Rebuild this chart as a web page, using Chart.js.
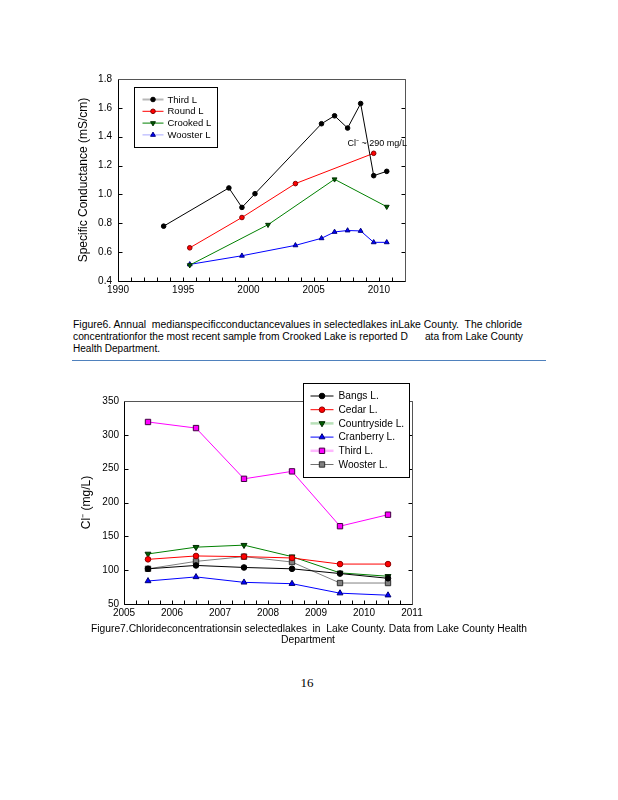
<!DOCTYPE html>
<html><head><meta charset="utf-8">
<script src="https://cdn.jsdelivr.net/npm/chart.js@4.4.0/dist/chart.umd.min.js"></script>
<style>
html,body{margin:0;padding:0;background:#fff;}
body{width:618px;height:800px;position:relative;overflow:hidden;font-family:"Liberation Sans",Arial,sans-serif;color:#000;}
canvas{position:absolute;}
.cap{position:absolute;white-space:pre;font-size:10px;line-height:12px;color:#000;transform-origin:0 0;}
#rule{position:absolute;left:72px;top:359.5px;width:474px;height:0;border-top:1.4px solid #4f81bd;}
#pg{position:absolute;left:287px;width:40px;top:675px;text-align:center;font-family:"Liberation Serif","Times New Roman",serif;font-size:13px;line-height:16px;color:#000;}
</style></head><body>
<canvas id="c1" width="360" height="250" style="left:60px;top:60px;width:360px;height:250px"></canvas>
<div class="cap" data-w="449" style="left:73px;top:319px">Figure6. Annual  medianspecificconductancevalues in selectedlakes inLake County.  The chloride</div>
<div class="cap" data-w="450" style="left:73px;top:331px">concentrationfor the most recent sample from Crooked Lake is reported D      ata from Lake County</div>
<div class="cap" data-w="87" style="left:73px;top:343px">Health Department.</div>
<div id="rule"></div>
<canvas id="c2" width="370" height="250" style="left:60px;top:375px;width:370px;height:250px"></canvas>
<div class="cap" data-w="436" style="left:91px;top:623px">Figure7.Chlorideconcentrationsin selectedlakes  in  Lake County. Data from Lake County Health</div>
<div class="cap" data-w="54" style="left:281px;top:634px">Department</div>
<div id="pg">16</div>
<script>
// ---------- Figure 6 data: specific conductance (mS/cm) ----------
const thirdYearsSC = [1993.5, 1998.5, 1999.5, 2000.5, 2005.6, 2006.6, 2007.6, 2008.6, 2009.6, 2010.6];
const thirdSC      = [0.78, 1.045, 0.91, 1.005, 1.49, 1.545, 1.46, 1.63, 1.13, 1.16];
const roundYearsSC = [1995.5, 1999.5, 2003.6, 2009.6];
const roundSC      = [0.63, 0.84, 1.075, 1.285];
const crookedYearsSC = [1995.5, 2001.5, 2006.6, 2010.6];
const crookedSC      = [0.51, 0.79, 1.105, 0.915];
const woosterYearsSC = [1995.5, 1999.5, 2003.6, 2005.6, 2006.6, 2007.6, 2008.6, 2009.6, 2010.6];
const woosterSC      = [0.515, 0.575, 0.647, 0.696, 0.74, 0.75, 0.747, 0.668, 0.668];
const scXTicks = [1990, 1995, 2000, 2005, 2010];
const scYTicks = [0.4, 0.6, 0.8, 1.0, 1.2, 1.4, 1.6, 1.8];

// ---------- Figure 7 data: chloride (mg/L) ----------
const clYears = [2005.5, 2006.5, 2007.5, 2008.5, 2009.5, 2010.5];
const bangsCl       = [102, 107, 104, 102, 95, 88];
const cedarCl       = [116, 121, 120, 118, 109, 109];
const countrysideCl = [124, 134, 137, 120, 96, 91];
const cranberryCl   = [84, 90, 82, 80, 66, 63];
const thirdCl       = [319, 310, 235, 246, 165, 182];
const woosterCl     = [102, 113, 120, 112, 81, 81];
const clXTicks = [2005, 2006, 2007, 2008, 2009, 2010, 2011];
const clYTicks = [50, 100, 150, 200, 250, 300, 350];

const pts = (xs, ys) => xs.map((x, i) => ({x: x, y: ys[i]}));
const FONT = '"Liberation Sans", Arial, sans-serif';

function marker(ctx, style, x, y, r, fill, stroke, rot) {
  ctx.save();
  ctx.fillStyle = fill; ctx.strokeStyle = stroke; ctx.lineWidth = 1;
  ctx.beginPath();
  if (style === 'circle') { ctx.arc(x, y, r, 0, Math.PI * 2); }
  else if (style === 'rect') { const s = r * Math.SQRT1_2; ctx.rect(x - s, y - s, 2 * s, 2 * s); }
  else if (style === 'triangle') {
    ctx.translate(x, y); if (rot) ctx.rotate(rot * Math.PI / 180);
    const w = r * Math.sqrt(3) / 2;
    ctx.moveTo(0, -r); ctx.lineTo(w, r / 2); ctx.lineTo(-w, r / 2);
  }
  ctx.closePath(); ctx.fill(); ctx.stroke();
  ctx.restore();
}

const framePlugin = {
  id: 'frame',
  beforeDatasetsDraw(chart, args, o) {
    const {ctx, chartArea: a, scales: {x, y}} = chart;
    const L = Math.round(a.left) + 0.5, R = Math.round(a.right) + 0.5, T = Math.round(a.top) + 0.5, B = Math.round(a.bottom) + 0.5;
    ctx.save();
    ctx.strokeStyle = '#000'; ctx.lineWidth = 1;
    ctx.beginPath();
    (o.xTicks || []).forEach(v => { const p = Math.round(x.getPixelForValue(v)) + 0.5; ctx.moveTo(p, B); ctx.lineTo(p, B - o.len); });
    (o.yTicks || []).forEach(v => { const p = Math.round(y.getPixelForValue(v)) + 0.5; ctx.moveTo(L, p); ctx.lineTo(L + o.len, p); ctx.moveTo(R, p); ctx.lineTo(R - o.len, p); });
    ctx.stroke();
    ctx.beginPath(); ctx.moveTo(L, T); ctx.lineTo(L, B); ctx.lineTo(R, B); ctx.stroke();
    ctx.strokeStyle = '#555';
    ctx.beginPath(); ctx.moveTo(L, T); ctx.lineTo(R, T); ctx.lineTo(R, B); ctx.stroke();
    ctx.restore();
  },
  afterDraw(chart, args, o) {
    const {ctx, chartArea: a, scales: {x, y}} = chart;
    if (o.note) {
      ctx.save();
      ctx.font = o.note.font; ctx.fillStyle = '#000'; ctx.textBaseline = 'middle'; ctx.textAlign = 'left';
      ctx.fillText(o.note.text, x.getPixelForValue(o.note.x), y.getPixelForValue(o.note.y));
      ctx.restore();
    }
    const lg = o.legend;
    if (lg) {
      const bx = Math.round(a.left + lg.dx) + 0.5, by = Math.round(a.top + lg.dy) + 0.5;
      ctx.save();
      ctx.fillStyle = '#fff'; ctx.fillRect(bx, by, lg.w, lg.h);
      ctx.strokeStyle = '#000'; ctx.lineWidth = 1; ctx.strokeRect(bx, by, lg.w, lg.h);
      ctx.font = lg.font; ctx.textBaseline = 'middle'; ctx.textAlign = 'left';
      lg.items.forEach((it, i) => {
        const cy = by + lg.first + i * lg.row;
        ctx.strokeStyle = it.line; ctx.lineWidth = it.lw;
        ctx.beginPath(); ctx.moveTo(bx + lg.l0, cy); ctx.lineTo(bx + lg.l1, cy); ctx.stroke();
        marker(ctx, it.style, bx + (lg.l0 + lg.l1) / 2, cy, it.r, it.fill, it.stroke, it.rot);
        ctx.fillStyle = '#000';
        ctx.fillText(it.label, bx + lg.tx, cy + 0.5);
      });
      ctx.restore();
    }
  }
};

function yFit(w) { return s => { s.width = w; }; }
function xFit(h) { return s => { s.height = h; }; }
const noGrid = {display: false, drawTicks: false};

// ---------- Chart 1 ----------
const minorYears = []; for (let v = 1990; v <= 2012; v++) minorYears.push(v);
new Chart(document.getElementById('c1'), {
  type: 'line',
  plugins: [framePlugin],
  data: {
    datasets: [
      {label: 'Third L', data: pts(thirdYearsSC, thirdSC), borderColor: '#000', backgroundColor: '#000', pointBackgroundColor: '#000', pointBorderColor: '#000', pointStyle: 'circle', pointRadius: 2.3},
      {label: 'Round L', data: pts(roundYearsSC, roundSC), borderColor: '#ff0000', pointBackgroundColor: '#ff0000', pointBorderColor: '#800000', pointStyle: 'circle', pointRadius: 2.3},
      {label: 'Crooked L', data: pts(crookedYearsSC, crookedSC), borderColor: '#008000', pointBackgroundColor: '#005a00', pointBorderColor: '#003000', pointStyle: 'triangle', pointRotation: 180, pointRadius: 2.8},
      {label: 'Wooster L', data: pts(woosterYearsSC, woosterSC), borderColor: '#0000ff', pointBackgroundColor: '#0000ff', pointBorderColor: '#000080', pointStyle: 'triangle', pointRadius: 2.8}
    ]
  },
  options: {
    responsive: false, animation: false, devicePixelRatio: 1,
    layout: {padding: {top: 19, right: 15, left: 0, bottom: 0}},
    elements: {line: {borderWidth: 1, tension: 0}, point: {borderWidth: 1}},
    plugins: {
      legend: {display: false}, tooltip: {enabled: false},
      frame: {
        xTicks: minorYears, yTicks: scYTicks, len: 4,
        note: {text: 'Cl\u207B ~ 290 mg/L', x: 2007.6, y: 1.35, font: '9px ' + FONT},
        legend: {dx: 16, dy: 8, w: 83, h: 60, first: 12, row: 11.8, l0: 8, l1: 29, tx: 33, font: '9.5px ' + FONT,
          items: [
            {label: 'Third L', line: '#b8b8b8', lw: 2, style: 'circle', r: 2.3, fill: '#000', stroke: '#000'},
            {label: 'Round L', line: '#ff0000', lw: 1, style: 'circle', r: 2.3, fill: '#ff0000', stroke: '#800000'},
            {label: 'Crooked L', line: '#008000', lw: 1, style: 'triangle', r: 2.8, fill: '#005a00', stroke: '#003000', rot: 180},
            {label: 'Wooster L', line: '#a8a8ff', lw: 1, style: 'triangle', r: 2.8, fill: '#0000ff', stroke: '#000080'}
          ]}
      }
    },
    scales: {
      x: {type: 'linear', min: 1990, max: 2012, afterFit: xFit(29),
        afterBuildTicks: s => { s.ticks = scXTicks.map(v => ({value: v})); },
        grid: noGrid, border: {display: false},
        ticks: {padding: 3, color: '#000', font: {family: FONT, size: 10}, maxRotation: 0, autoSkip: false, callback: v => String(v)}},
      y: {type: 'linear', min: 0.4, max: 1.8, afterFit: yFit(58),
        afterBuildTicks: s => { s.ticks = scYTicks.map(v => ({value: v})); },
        grid: noGrid, border: {display: false},
        ticks: {padding: 6, color: '#000', font: {family: FONT, size: 10}, callback: v => v.toFixed(1)},
        title: {display: true, text: 'Specific Conductance (mS/cm)', color: '#000', font: {family: FONT, size: 12}, padding: {top: 16, bottom: 0}}}
    }
  }
});

// ---------- Chart 2 ----------
const quarterTicks = []; for (let v = 2005; v <= 2011.001; v += 0.25) quarterTicks.push(v);
new Chart(document.getElementById('c2'), {
  type: 'line',
  plugins: [framePlugin],
  data: {
    datasets: [
      {label: 'Bangs L.', data: pts(clYears, bangsCl), borderColor: '#000', pointBackgroundColor: '#000', pointBorderColor: '#000', pointStyle: 'circle', pointRadius: 2.8},
      {label: 'Cedar L.', data: pts(clYears, cedarCl), borderColor: '#ff0000', pointBackgroundColor: '#ff0000', pointBorderColor: '#900000', pointStyle: 'circle', pointRadius: 2.8},
      {label: 'Countryside L.', data: pts(clYears, countrysideCl), borderColor: '#008000', pointBackgroundColor: '#006000', pointBorderColor: '#002800', pointStyle: 'triangle', pointRotation: 180, pointRadius: 3.4},
      {label: 'Cranberry L.', data: pts(clYears, cranberryCl), borderColor: '#0000ff', pointBackgroundColor: '#0000ff', pointBorderColor: '#000070', pointStyle: 'triangle', pointRadius: 3.4},
      {label: 'Third L.', data: pts(clYears, thirdCl), borderColor: '#ff00ff', pointBackgroundColor: '#ff00ff', pointBorderColor: '#400040', pointStyle: 'rect', pointRadius: 3.8},
      {label: 'Wooster L.', data: pts(clYears, woosterCl), borderColor: '#808080', pointBackgroundColor: '#808080', pointBorderColor: '#303030', pointStyle: 'rect', pointRadius: 3.8}
    ]
  },
  options: {
    responsive: false, animation: false, devicePixelRatio: 1,
    layout: {padding: {top: 26, right: 18, left: 0, bottom: 0}},
    elements: {line: {borderWidth: 1, tension: 0}, point: {borderWidth: 1}},
    plugins: {
      legend: {display: false}, tooltip: {enabled: false},
      frame: {
        xTicks: quarterTicks, yTicks: clYTicks, len: 4,
        legend: {dx: 179, dy: -18, w: 106, h: 94, first: 12.5, row: 13.7, l0: 7, l1: 30, tx: 35, font: '10.2px ' + FONT,
          items: [
            {label: 'Bangs L.', line: '#000', lw: 1, style: 'circle', r: 2.8, fill: '#000', stroke: '#000'},
            {label: 'Cedar L.', line: '#ff0000', lw: 1, style: 'circle', r: 2.8, fill: '#ff0000', stroke: '#900000'},
            {label: 'Countryside L.', line: '#b8e0b8', lw: 2.5, style: 'triangle', r: 3.4, fill: '#006000', stroke: '#002800', rot: 180},
            {label: 'Cranberry L.', line: '#0000ff', lw: 1, style: 'triangle', r: 3.4, fill: '#0000ff', stroke: '#000070'},
            {label: 'Third L.', line: '#ffb8ff', lw: 2.5, style: 'rect', r: 3.8, fill: '#ff00ff', stroke: '#400040'},
            {label: 'Wooster L.', line: '#707070', lw: 1, style: 'rect', r: 3.8, fill: '#808080', stroke: '#303030'}
          ]}
      }
    },
    scales: {
      x: {type: 'linear', min: 2005, max: 2011, afterFit: xFit(21),
        afterBuildTicks: s => { s.ticks = clXTicks.map(v => ({value: v})); },
        grid: noGrid, border: {display: false},
        ticks: {padding: 3, color: '#000', font: {family: FONT, size: 10}, maxRotation: 0, autoSkip: false, callback: v => String(v)}},
      y: {type: 'linear', min: 50, max: 350, afterFit: yFit(64),
        afterBuildTicks: s => { s.ticks = clYTicks.map(v => ({value: v})); },
        grid: noGrid, border: {display: false},
        ticks: {padding: 5, color: '#000', font: {family: FONT, size: 10}},
        title: {display: true, text: 'Cl\u207B (mg/L)', color: '#000', font: {family: FONT, size: 12}, padding: {top: 19, bottom: 0}}}
    }
  }
});

document.querySelectorAll('.cap').forEach(el => {
  const w = +el.dataset.w; const aw = el.getBoundingClientRect().width;
  if (aw > 0) el.style.transform = 'scaleX(' + (w / aw) + ')';
});
</script>
</body></html>
